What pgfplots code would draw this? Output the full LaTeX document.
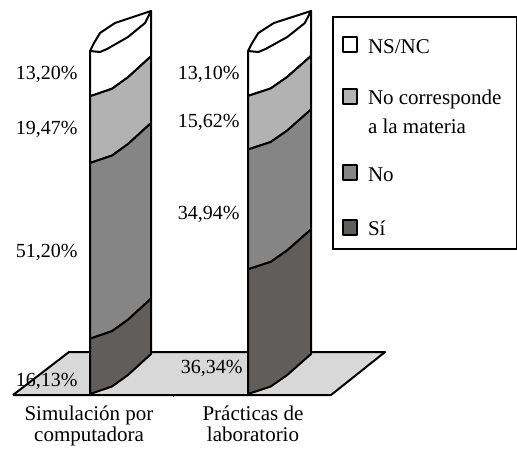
\documentclass[border=0pt]{standalone}
\usepackage{fontspec}
\setmainfont{Liberation Serif}
\usepackage{pgfplots}
\pgfplotsset{compat=1.18}
\definecolor{cSi}{HTML}{5F5E5C}
\definecolor{cNo}{HTML}{858585}
\definecolor{cNoCorr}{HTML}{B2B2B2}
\definecolor{cPlane}{HTML}{D8D8D8}

% #1 left x, #2 width, #3 cumulative low, #4 cumulative high, #5 colour, #6 extra options
\newcommand{\band}[6]{%
  \addplot[draw=black, fill=#5, line width=2pt, line join=round, #6] coordinates {
    (#1,#3) (#1+22*#2/61,#3+2.19) (#1+38*#2/61,#3+5.54) (#1+#2,#3+11.66)
    (#1+#2,#4+11.66) (#1+38*#2/61,#4+5.54) (#1+22*#2/61,#4+2.19) (#1,#4) (#1,#3)
  };
}
% top of the cylinder, sitting at 100 %
\newcommand{\cyltop}[2]{%
  \addplot[draw=black, fill=white, line width=2pt, line join=round, forget plot] coordinates {
    (#1,100) (#1+4*#2/61,102.33) (#1+10*#2/61,105.25) (#1+25*#2/61,108.16) (#1+#2,111.66)
    (#1+55*#2/61,108.16) (#1+38*#2/61,104.08) (#1+17*#2/61,100.58) (#1+10*#2/61,99.71) (#1,100)
  };
}

\begin{document}
\begin{tikzpicture}
\useasboundingbox (0,0) rectangle (517pt,448pt);
\begin{axis}[
    at={(0,0)}, anchor=south west,
    scale only axis, width=517pt, height=448pt,
    xmin=0, xmax=517, ymin=-15.74, ymax=114.87,
    clip=false,
    axis line style={draw=none},
    major tick length=0pt,
    ytick=\empty,
    xtick={89,253},
    xticklabels={{Simulaci\'on por\\computadora},{Pr\'acticas de\\laboratorio}},
    xticklabel style={align=center, yshift=46pt, font=\fontsize{21}{21}\selectfont},
    legend style={
        at={(axis cs:332,110.2)}, anchor=north west,
        draw=black, line width=2pt,
        inner xsep=9pt, inner ysep=12pt,
        font=\fontsize{21}{29}\selectfont,
        row sep=29pt,
        nodes={inner sep=0pt, line width=0.4pt},
        cells={anchor=base west},
        /tikz/every odd column/.append style={column sep=10pt},
    },
    legend image code/.code={
        \draw[#1, line width=2pt] (1pt,1pt) rectangle (15pt,16pt);
    },
    font=\fontsize{20}{24}\selectfont,
]
% floor of the chart
\addplot[draw=black, fill=cPlane, line width=2pt, line join=round, forget plot]
    coordinates {(13,-0.29) (69,12.24) (385,12.24) (331,-0.29) (13,-0.29)};
\addplot[draw=black, line width=1pt, forget plot] coordinates {(173,-0.29) (173,-0.9)};

% Simulacion por computadora: 16.13 / 51.20 / 19.47 / 13.20
\band{90}{61}{86.80}{100.00}{white}{}
\addlegendentry{NS/NC\rule{0pt}{24pt}}
\band{90}{61}{67.33}{86.80}{cNoCorr}{}
\addlegendentry{\parbox[t]{140pt}{\raggedright\rule{0pt}{21pt}No corresponde\\a la materia}}
\band{90}{61}{16.13}{67.33}{cNo}{}
\addlegendentry{No\rule{0pt}{46pt}}
\band{90}{61}{0}{16.13}{cSi}{}
\addlegendentry{S\'i\rule{0pt}{24pt}}
\cyltop{90}{61}

% Practicas de laboratorio: 36.34 / 34.94 / 15.62 / 13.10
\band{248}{63}{86.90}{100.00}{white}{forget plot}
\band{248}{63}{71.28}{86.90}{cNoCorr}{forget plot}
\band{248}{63}{36.34}{71.28}{cNo}{forget plot}
\band{248}{63}{0}{36.34}{cSi}{forget plot}
\cyltop{248}{63}

\node[anchor=east] at (axis cs:81,93.29) {13,20\%};
\node[anchor=east] at (axis cs:81,77.26) {19,47\%};
\node[anchor=east] at (axis cs:81,41.40) {51,20\%};
\node[anchor=east] at (axis cs:81,3.79) {16,13\%};
\node[anchor=east] at (axis cs:243,93.29) {13,10\%};
\node[anchor=east] at (axis cs:243,79.30) {15,62\%};
\node[anchor=east] at (axis cs:243,52.48) {34,94\%};
\node[anchor=east] at (axis cs:246,7.58) {36,34\%};
\end{axis}
\end{tikzpicture}
\end{document}
